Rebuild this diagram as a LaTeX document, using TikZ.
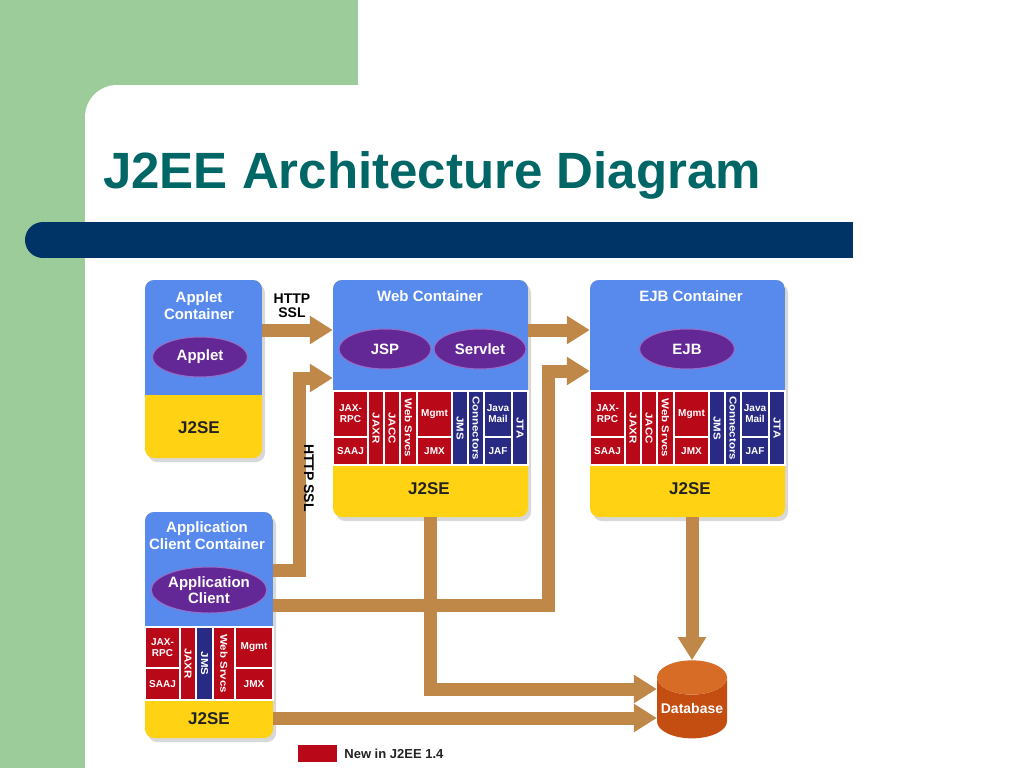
\documentclass[tikz,border=0pt]{standalone}
\usepackage{fontspec}
\setmainfont{Liberation Sans}
\newfontfamily\tallfont[FakeStretch=1.15]{Liberation Sans}
\usepackage{tikz}
\usetikzlibrary{arrows.meta}
\usetikzlibrary{positioning}
\usetikzlibrary{shapes.geometric}
\usetikzlibrary{shadows}

\definecolor{slidegreen}{RGB}{155,204,153}
\definecolor{barnavy}{RGB}{0,51,102}
\definecolor{titleteal}{RGB}{0,102,102}
\definecolor{cblue}{RGB}{88,138,238}
\definecolor{seyellow}{RGB}{255,210,20}
\definecolor{newred}{RGB}{185,8,24}
\definecolor{oldblue}{RGB}{40,42,132}
\definecolor{compviolet}{RGB}{100,40,150}
\definecolor{compedge}{RGB}{150,110,200}
\definecolor{pipebrown}{RGB}{192,136,72}
\definecolor{dbbody}{RGB}{196,78,18}
\definecolor{dbtop}{RGB}{214,108,38}
\definecolor{darktext}{RGB}{34,34,34}

\tikzset{
  container/.style={rounded corners=9pt, fill=seyellow, inner sep=0pt,
    drop shadow={shadow xshift=3pt, shadow yshift=-4pt, opacity=0.3},
    path picture={\fill[cblue, sharp corners] (path picture bounding box.north west)
      rectangle ([yshift=-#1]path picture bounding box.north east);}},
  ctitle/.style={text=white, font=\bfseries\fontsize{15}{17}\selectfont, align=center, inner sep=0pt},
  comp/.style={ellipse, fill=compviolet, draw=compedge, line width=1pt, text=white,
    font=\bfseries\fontsize{15}{16}\selectfont, minimum width=95pt, minimum height=40pt,
    inner sep=0pt, align=center},
  setext/.style={text=darktext, font=\bfseries\fontsize{17}{17}\selectfont, inner sep=0pt},
  api/.style={draw=white, line width=1.5pt, text=white, font=\bfseries\fontsize{10}{11}\selectfont,
    inner sep=0pt, align=center},
  vapi/.style={api, rotate=-90, font=\tallfont\bfseries\fontsize{10}{10}\selectfont},
  lbl/.style={text=black, font=\bfseries\fontsize{14}{14}\selectfont, inner sep=0pt, align=center},
  pipe/.style={line width=13pt, draw=pipebrown, line join=miter, -{Triangle[width=27pt,length=23pt]}},
}

\begin{document}
\begin{tikzpicture}[x=1pt,y=-1pt]
  \useasboundingbox (0,0) rectangle (1024,768);
  % slide background
  \fill[white] (0,0) rectangle (1024,768);
  \fill[slidegreen] (0,0) rectangle (358,768);
  \fill[white, rounded corners=32pt] (85,85) rectangle (1150,900);
  \fill[barnavy] (43,222) rectangle (853,258);
  \fill[barnavy] (43,240) circle (18);
  \node[anchor=base west, text=titleteal, inner sep=0pt,
    font=\bfseries\fontsize{51}{51}\selectfont] (title) at (103,188) {J2EE Architecture Diagram};

  % containers
  \node[container=115pt, minimum width=117pt, minimum height=178pt] (applet) at (203.5,369) {};
  \node[container=185pt, minimum width=195pt, minimum height=237pt] (web) at (430.5,398.5) {};
  \node[container=185pt, minimum width=195pt, minimum height=237pt] (ejb) at (687.5,398.5) {};
  \node[container=188pt, minimum width=128pt, minimum height=226pt] (client) at (209,625) {};

  \node[ctitle] (applet-t) at (199,305.5) {Applet\\Container};
  \node[ctitle] (web-t) at (430,296) {Web Container};
  \node[ctitle] (ejb-t) at (691,296) {EJB Container};
  \node[ctitle] (client-t) at (207,536) {Application\\Client Container};

  \node[comp] (applet-c) at (200,357) {Applet};
  \node[comp, minimum width=92pt] (jsp) at (385,349) {JSP};
  \node[comp, minimum width=92pt] (servlet) at (480,349) {Servlet};
  \node[comp] (ejb-c) at (687,349) {EJB};
  \node[comp, minimum width=100pt, minimum height=46pt] (client-c) at (209,590) {Application\\Client};

  \node[setext] (applet-se) at (199,428) {J2SE};
  \node[setext] (web-se) at (429,489) {J2SE};
  \node[setext] (ejb-se) at (690,489) {J2SE};
  \node[setext] (client-se) at (209,719) {J2SE};

  % service APIs
  \foreach \dx/\p in {0/web, 257/ejb} {
    \foreach \cx/\cy/\w/\h/\c/\t [count=\i] in {350.5/414/35/46/newred/{JAX-\\RPC},
        350.5/451/35/28/newred/SAAJ, 434.5/414/35/46/newred/Mgmt, 434.5/451/35/28/newred/JMX,
        498/414/28/46/oldblue/{Java\\Mail}, 498/451/28/28/oldblue/JAF}
      \node[api, fill=\c, minimum width=\w, minimum height=\h] (\p-h\i) at (\cx+\dx,\cy) {\t};
    \foreach \cx/\w/\c/\t [count=\i] in {376/16/newred/JAXR, 392/16/newred/JACC,
        408.5/17/newred/{Web Srvcs}, 460/16/oldblue/JMS, 476/16/oldblue/Connectors, 520/16/oldblue/JTA}
      \node[vapi, fill=\c, minimum width=74, minimum height=\w] (\p-v\i) at (\cx+\dx,428) {\t};
  }
  \foreach \cx/\cy/\w/\h/\t [count=\i] in {162.5/647.5/35/41/{JAX-\\RPC}, 162.5/684/35/32/SAAJ,
      254/647.5/38/41/Mgmt, 254/684/38/32/JMX}
    \node[api, fill=newred, minimum width=\w, minimum height=\h] (client-h\i) at (\cx,\cy) {\t};
  \foreach \cx/\w/\c/\t [count=\i] in {188/16/newred/JAXR, 204.5/17/oldblue/JMS, 224/22/newred/{Web Srvcs}}
    \node[vapi, fill=\c, minimum width=73, minimum height=\w] (client-v\i) at (\cx,663.5) {\t};

  \node[cylinder, shape border rotate=90, aspect=0.55, minimum width=70pt, minimum height=78pt,
    cylinder uses custom fill, cylinder body fill=dbbody, cylinder end fill=dbtop, text=white,
    font=\bfseries\fontsize{14}{14}\selectfont, inner sep=0pt] (db) at (692,708) {Database};

  % protocols and data paths
  \coordinate (lane1) at (0,330);
  \coordinate (lane2) at (0,570);
  \coordinate (turn2) at (299,378);
  \coordinate (lane3) at (0,605);
  \coordinate (turn3) at (548,371);
  \coordinate (lane4) at (0,689);
  \coordinate (lane5) at (0,718);
  \draw[pipe] (applet.east |- lane1) -- (web.west |- lane1);
  \draw[pipe] (web.east |- lane1) -- (ejb.west |- lane1);
  \draw[pipe] (client.east |- lane2) -| (turn2) -- (web.west |- turn2);
  \draw[pipe] (client.east |- lane3) -| (turn3) -- (ejb.west |- turn3);
  \draw[pipe] (web.south) |- (db.west |- lane4);
  \draw[pipe] (client.east |- lane5) -- (db.west |- lane5);
  \draw[pipe] (ejb.south -| db.north) -- (db.north);
  \node[lbl] (http1) at (292,306) {HTTP\\SSL};
  \node[lbl, rotate=-90] (http2) at (309,478) {HTTP SSL};

  % legend
  \node[fill=newred, minimum width=39pt, minimum height=17pt, inner sep=0pt] (key) at (317.5,753.5) {};
  \node[right=7pt of key, text=darktext, font=\bfseries\fontsize{13}{13}\selectfont, inner sep=0pt]
    (keytext) {New in J2EE 1.4};
\end{tikzpicture}
\end{document}
